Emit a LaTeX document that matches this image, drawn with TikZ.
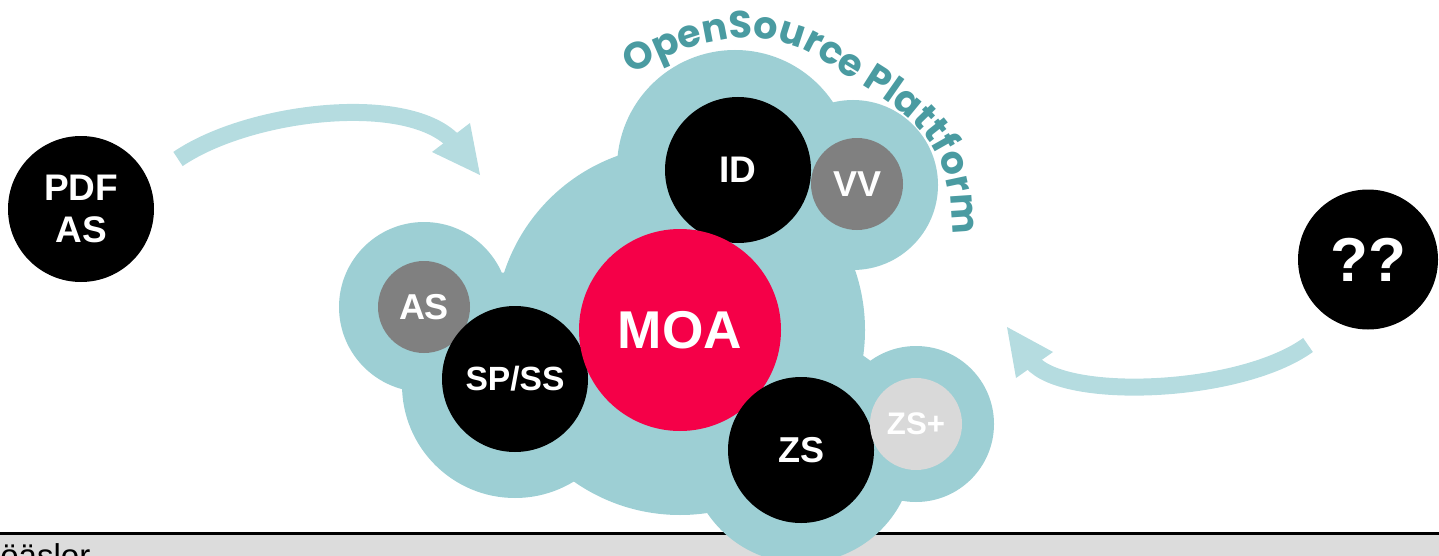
\documentclass[tikz,border=0pt]{standalone}
\usepackage{fontspec}
\setmainfont{Liberation Sans}
\newfontfamily\arcfont{Poppins}
\usetikzlibrary{decorations.text}
\definecolor{cloudc}{RGB}{157,207,212}
\definecolor{arrowc}{RGB}{181,220,224}
\definecolor{moared}{RGB}{245,0,72}
\definecolor{midgray}{RGB}{128,128,128}
\definecolor{palegray}{RGB}{217,217,217}
\definecolor{arctext}{RGB}{74,155,161}
\definecolor{barc}{RGB}{220,220,220}
\begin{document}
\begin{tikzpicture}[x=0.5pt,y=-0.5pt,
  disc/.style={circle,inner sep=0pt,text=white,align=center},
  bigdisc/.style={disc,fill=black,minimum size=73pt,font=\bfseries\fontsize{18.5}{21}\selectfont},
  smalldisc/.style={disc,minimum size=46pt,font=\bfseries\fontsize{18}{21}\selectfont},
  band/.style={draw=arrowc,line width=8.5pt,line cap=butt},
  head/.style={fill=arrowc}]
\useasboundingbox (0,0) rectangle (1439,556);
\begin{scope}
\clip (0,0) rectangle (1439,556);
% footer bar
\fill[barc] (0,535) rectangle (1439,556);
\draw[black,line width=1.2pt] (0,533.5) -- (1439,533.5);
\node[anchor=base west,inner sep=0pt,font=\fontsize{16.5}{18}\selectfont] (foot) at (0,567) {öäslor};
% cloud
\fill[cloudc] (680,330) circle[radius=92.5pt];
\fill[cloudc] (735,168) circle[radius=59pt];
\fill[cloudc] (853,185) circle[radius=42.5pt];
\fill[cloudc] (424,307) circle[radius=42.5pt];
\fill[cloudc] (515,385) circle[radius=56.5pt];
\fill[cloudc] (801,450) circle[radius=56.5pt];
\fill[cloudc] (916,424) circle[radius=39pt];
\end{scope}
% arc title
\path[decorate,decoration={text along path,
  text={|\arcfont\bfseries\fontsize{19}{21}\selectfont\color{arctext}|OpenSource Plattform},
  text align=center}]
  (634,74) .. controls (688,42) and (760,18) .. (823,61)
  .. controls (860,86) and (900,103) .. (928,140)
  .. controls (945,163) and (952,195) .. (952,232);
% circles
\node[bigdisc] (pdf) at (81,209) {PDF\\AS};
\node[disc,fill=black,minimum size=70pt,font=\bfseries\fontsize{31}{34}\selectfont] (qq) at (1368,259.5) {??};
\node[bigdisc] (id) at (738,170) {ID};
\node[smalldisc,fill=midgray] (vv) at (857,184) {VV};
\node[smalldisc,fill=midgray] (as) at (424,307) {AS};
\node[bigdisc,font=\bfseries\fontsize{16.8}{20}\selectfont] (sp) at (515,379) {SP/SS};
\node[disc,fill=moared,minimum size=101pt,font=\bfseries\fontsize{26.6}{30}\selectfont] (moa) at (680,330) {MOA};
\node[bigdisc,font=\bfseries\fontsize{18}{21}\selectfont] (zs) at (801,450) {ZS};
\node[smalldisc,fill=palegray,font=\bfseries\fontsize{15.6}{18}\selectfont] (zsp) at (916,424) {ZS+};
% arrows
\coordinate (a1s) at (178,159);
\coordinate (a1e) at (455,143);
\coordinate (a1tip) at (480,175);
\coordinate (a1b1) at (470,123);
\coordinate (a1b2) at (432,152);
\draw[band] (a1s) .. controls (250,110) and (410,92) .. (a1e);
\fill[head] (a1b1) -- (a1tip) -- (a1b2) -- cycle;
\coordinate (a2s) at (1308,345);
\coordinate (a2e) at (1032,362);
\coordinate (a2tip) at (1007,327);
\coordinate (a2b1) at (1053,352);
\coordinate (a2b2) at (1016,378);
\draw[band] (a2s) .. controls (1240,394) and (1065,401) .. (a2e);
\fill[head] (a2b1) -- (a2tip) -- (a2b2) -- cycle;
\end{tikzpicture}
\end{document}
